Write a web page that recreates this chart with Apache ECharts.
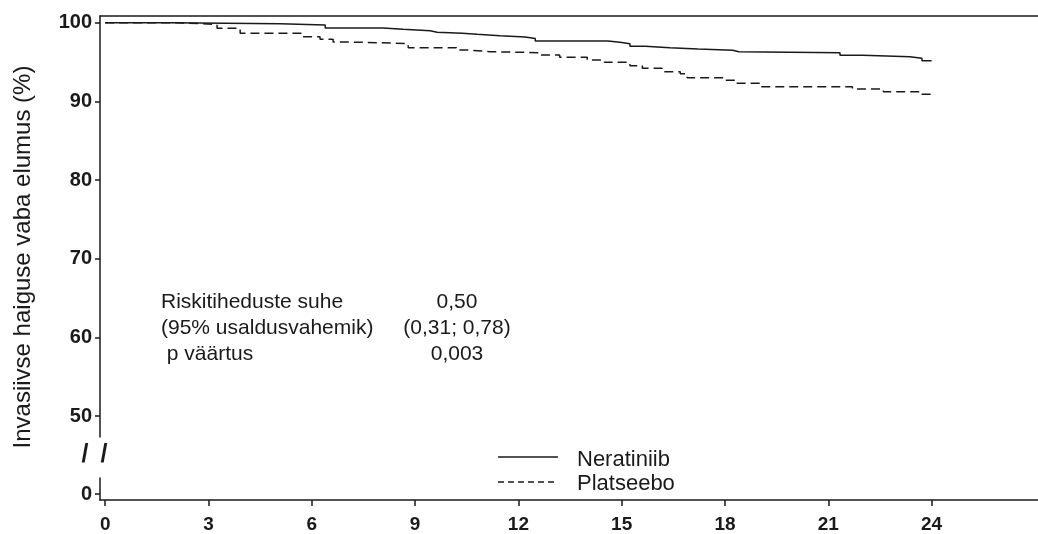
<!DOCTYPE html>
<html>
<head>
<meta charset="utf-8">
<style>
html,body{margin:0;padding:0;background:#fff;}
#chart{width:1038px;height:534px;}
</style>
<script src="https://cdn.jsdelivr.net/npm/echarts@6/dist/echarts.min.js"></script>
</head>
<body>
<div id="chart"></div>
<script>
// ---- data ----
const seriesNames = ['Neratiniib', 'Platseebo'];
const timesNeratiniib = [0, 1.89, 5.08, 6.39, 8.07, 8.65, 9.44, 9.64, 10.37, 10.8, 11.47, 12.2, 12.49, 14.6, 14.95, 15.24, 15.68, 16.4, 17.22, 18.23, 18.4, 21.34, 22.0, 23.37, 23.72, 24.0];
const survNeratiniib  = [100, 99.88, 99.71, 99.33, 99.16, 98.98, 98.78, 98.65, 98.52, 98.35, 98.18, 98.0, 97.67, 97.51, 97.33, 97.0, 96.82, 96.66, 96.49, 96.32, 96.19, 95.86, 95.68, 95.48, 95.17, 95.17];
const timesPlatseebo = [0, 1.89, 2.76, 3.25, 3.92, 5.72, 6.24, 6.62, 7.03, 8.8, 10.2, 10.5, 11.18, 12.63, 13.2, 14.0, 14.5, 15.24, 15.6, 16.17, 16.7, 16.9, 18.0, 18.3, 19.0, 21.7, 22.6, 23.7, 24.0];
const survPlatseebo  = [100, 99.9, 99.75, 99.29, 98.65, 98.22, 97.89, 97.55, 97.35, 96.82, 96.53, 96.32, 96.19, 95.9, 95.6, 95.26, 94.97, 94.54, 94.2, 93.78, 93.5, 93.0, 92.7, 92.3, 91.87, 91.58, 91.23, 90.9, 90.9];
const xTicks = [0, 3, 6, 9, 12, 15, 18, 21, 24];
const yTicksUpper = [50, 60, 70, 80, 90, 100];
const yTicksLower = [0];
const yTitle = 'Invasiivse haiguse vaba elumus (%)';
const statLabels = ['Riskitiheduste suhe', '(95% usaldusvahemik)', ' p väärtus'];
const statValues = ['0,50', '(0,31; 0,78)', '0,003'];

const FONT = '"Liberation Sans", Arial, Helvetica, sans-serif';
const INK = '#1a1a1a';

function pairs(t, s) { return t.map((v, i) => [v, s[i]]); }

const chart = echarts.init(document.getElementById('chart'), null, {renderer: 'canvas'});

const xMin = -0.15, xMax = 27.09;
const axisLine = {show: true, onZero: false, lineStyle: {color: INK, width: 1.5}};
const xTickLabel = {color: INK, fontFamily: FONT, fontWeight: 'bold', fontSize: 19};
const yTickLabel = {color: INK, fontFamily: FONT, fontWeight: 'bold', fontSize: 20};
const solidStyle = {color: INK, width: 1.5, type: 'solid'};
const dashedStyle = {color: INK, width: 1.5, type: [9, 5]};

const option = {
  backgroundColor: '#fff',
  animation: false,
  grid: [
    {left: 100, right: 0, top: 16, height: 421},
    {left: 100, right: 0, top: 478, height: 24}
  ],
  xAxis: [
    {type: 'value', gridIndex: 0, position: 'top', min: xMin, max: xMax,
     axisLine: axisLine, axisTick: {show: false}, axisLabel: {show: false}, splitLine: {show: false}},
    {type: 'value', gridIndex: 1, position: 'bottom', min: xMin, max: xMax,
     axisLine: axisLine,
     axisTick: {show: true, length: 6, lineStyle: {color: INK, width: 1.5}, customValues: xTicks},
     axisLabel: Object.assign({margin: 15, customValues: xTicks}, xTickLabel),
     splitLine: {show: false}}
  ],
  yAxis: [
    {type: 'value', gridIndex: 0, position: 'left', min: 47.36, max: 100.85,
     axisLine: axisLine,
     axisTick: {show: true, length: 5, lineStyle: {color: INK, width: 1.5}, customValues: yTicksUpper},
     axisLabel: Object.assign({margin: 8, customValues: yTicksUpper}, yTickLabel),
     splitLine: {show: false}},
    {type: 'value', gridIndex: 1, position: 'left', min: -0.83, max: 2.22,
     axisLine: axisLine,
     axisTick: {show: true, length: 5, lineStyle: {color: INK, width: 1.5}, customValues: yTicksLower},
     axisLabel: Object.assign({margin: 8, customValues: yTicksLower}, yTickLabel),
     splitLine: {show: false}}
  ],
  series: [
    {name: seriesNames[0], type: 'line', xAxisIndex: 0, yAxisIndex: 0, step: 'end',
     showSymbol: false, symbol: 'none', data: pairs(timesNeratiniib, survNeratiniib),
     lineStyle: solidStyle, itemStyle: {color: INK}},
    {name: seriesNames[1], type: 'line', xAxisIndex: 0, yAxisIndex: 0, step: 'end',
     showSymbol: false, symbol: 'none', data: pairs(timesPlatseebo, survPlatseebo),
     lineStyle: dashedStyle, itemStyle: {color: INK}}
  ],
  graphic: [
    {type: 'text', x: 23, y: 257, rotation: Math.PI / 2,
     style: {text: yTitle, fill: INK, font: '24px ' + FONT, align: 'center', verticalAlign: 'middle'}},
    {type: 'text', x: 85, y: 455,
     style: {text: '/', fill: INK, font: 'bold 25px ' + FONT, align: 'center', verticalAlign: 'middle'}},
    {type: 'text', x: 104, y: 455,
     style: {text: '/', fill: INK, font: 'bold 25px ' + FONT, align: 'center', verticalAlign: 'middle'}},
    // legend
    {type: 'line', shape: {x1: 498, y1: 457, x2: 558, y2: 457}, style: {stroke: INK, lineWidth: 1.5}},
    {type: 'line', shape: {x1: 498, y1: 482, x2: 558, y2: 482}, style: {stroke: INK, lineWidth: 1.5, lineDash: [6, 4]}},
    {type: 'text', x: 577, y: 460,
     style: {text: seriesNames[0], fill: INK, font: '22px ' + FONT, align: 'left', verticalAlign: 'middle'}},
    {type: 'text', x: 577, y: 484,
     style: {text: seriesNames[1], fill: INK, font: '22px ' + FONT, align: 'left', verticalAlign: 'middle'}},
    ...statLabels.map((s, i) => ({type: 'text', x: 161, y: 302 + i * 26,
      style: {text: s, fill: INK, font: '21px ' + FONT, align: 'left', verticalAlign: 'middle'}})),
    ...statValues.map((s, i) => ({type: 'text', x: 457, y: 302 + i * 26,
      style: {text: s, fill: INK, font: '21px ' + FONT, align: 'center', verticalAlign: 'middle'}}))
  ]
};
chart.setOption(option);
</script>
</body>
</html>
